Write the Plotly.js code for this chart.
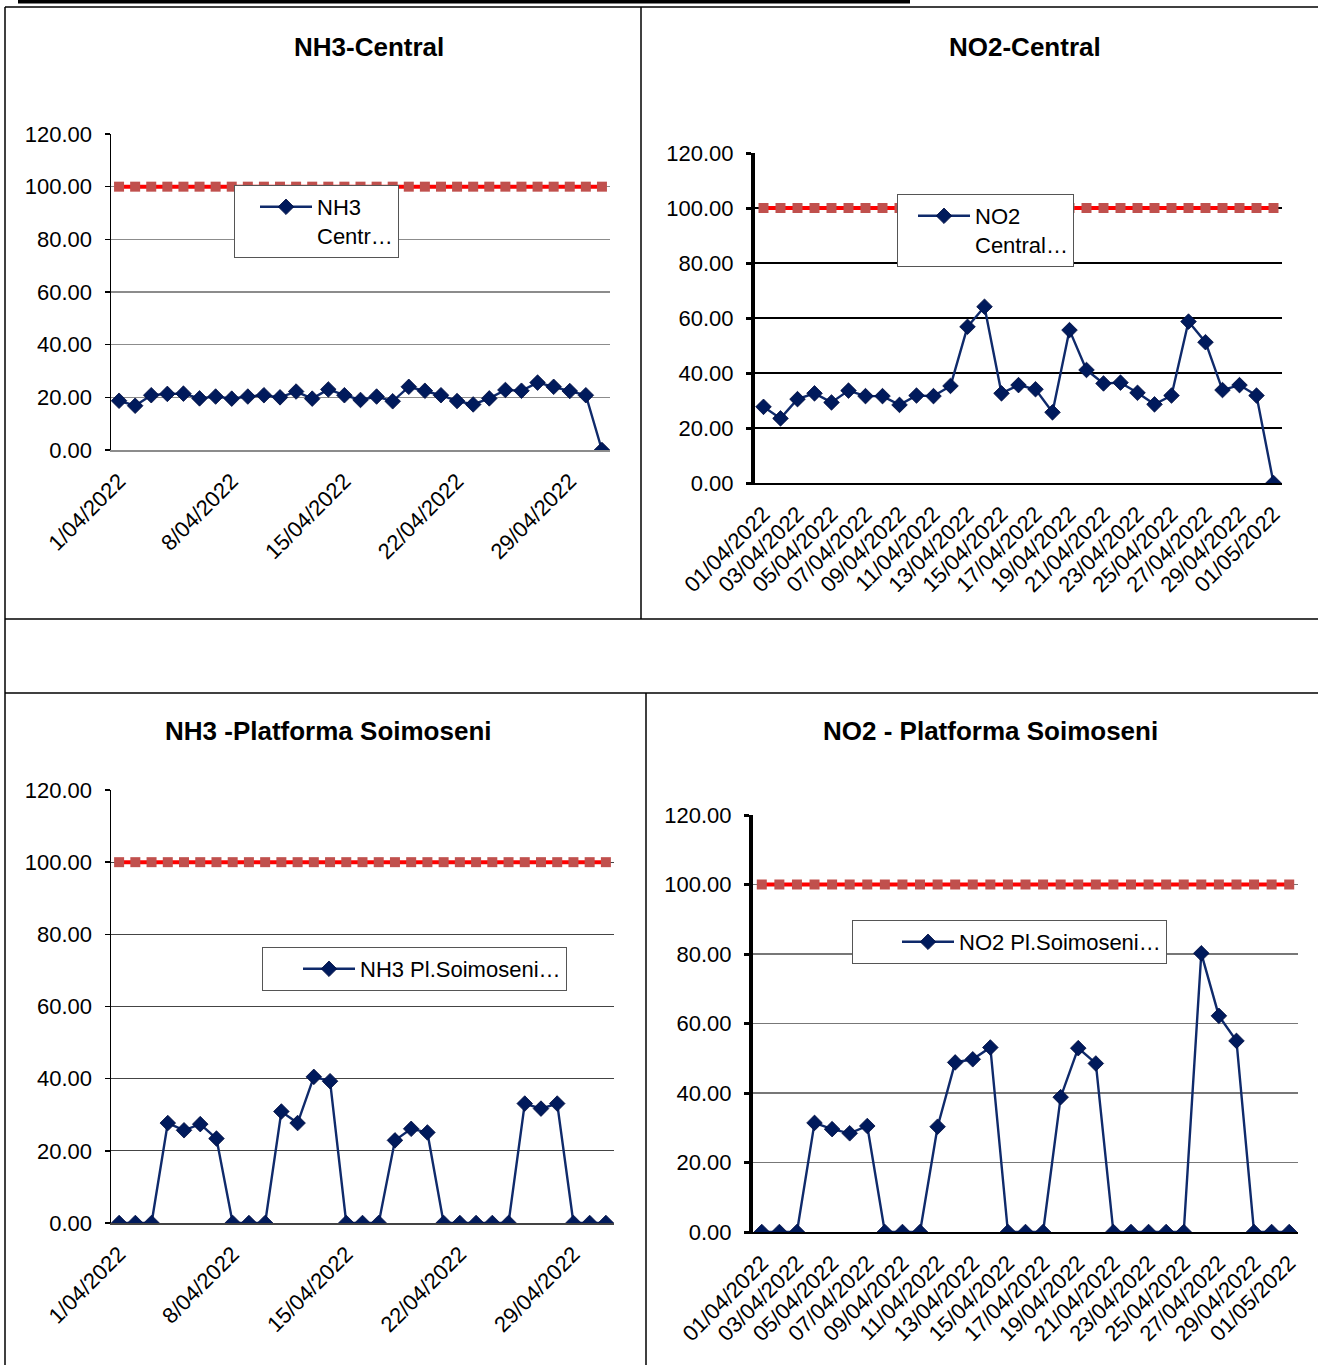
<!DOCTYPE html>
<html>
<head>
<meta charset="utf-8">
<script src="https://cdn.plot.ly/plotly-3.0.1.min.js"></script>
<style>
html,body{margin:0;padding:0;background:#fff;}
#chart{width:1318px;height:1365px;}
</style>
</head>
<body>
<div id="chart"></div>
<script>
// ---------- DATA ----------
const dates = ['2022-04-01','2022-04-02','2022-04-03','2022-04-04','2022-04-05','2022-04-06','2022-04-07','2022-04-08','2022-04-09','2022-04-10',
  '2022-04-11','2022-04-12','2022-04-13','2022-04-14','2022-04-15','2022-04-16','2022-04-17','2022-04-18','2022-04-19','2022-04-20',
  '2022-04-21','2022-04-22','2022-04-23','2022-04-24','2022-04-25','2022-04-26','2022-04-27','2022-04-28','2022-04-29','2022-04-30','2022-05-01'];

const nh3Central = [18.7,16.8,20.8,21.3,21.4,19.6,20.3,19.5,20.3,20.8,20.0,22.2,19.5,23.0,20.8,19.0,20.3,18.5,24.0,22.5,20.8,18.6,17.3,19.6,22.8,22.5,25.6,24.0,22.4,20.8,0];
const no2Central = [27.7,23.5,30.5,32.6,29.3,33.6,31.6,31.6,28.4,31.8,31.6,35.3,56.8,64.1,32.6,35.6,34.1,25.7,55.6,41.1,36.2,36.5,32.8,28.6,31.8,58.7,51.2,33.8,35.6,31.8,0];
const nh3Soimoseni = [0,0,0,27.7,25.7,27.4,23.4,0,0,0,30.9,27.7,40.5,39.3,0,0,0,22.9,26.1,25.1,0,0,0,0,0,33.1,31.7,33.1,0,0,0];
const no2Soimoseni = [0,0,0,31.4,29.6,28.4,30.5,0,0,0,30.3,48.8,49.7,53.1,0,0,0,38.8,52.9,48.5,0,0,0,0,0,80.2,62.2,55.0,0,0,0];
const limitValue = 100;

const weeklyTickDates = ['2022-04-01','2022-04-08','2022-04-15','2022-04-22','2022-04-29'];
const weeklyTickLabels = ['1/04/2022','8/04/2022','15/04/2022','22/04/2022','29/04/2022'];
const biDailyTickDates = ['2022-04-01','2022-04-03','2022-04-05','2022-04-07','2022-04-09','2022-04-11','2022-04-13','2022-04-15',
  '2022-04-17','2022-04-19','2022-04-21','2022-04-23','2022-04-25','2022-04-27','2022-04-29','2022-05-01'];
const biDailyTickLabels = ['01/04/2022','03/04/2022','05/04/2022','07/04/2022','09/04/2022','11/04/2022','13/04/2022','15/04/2022',
  '17/04/2022','19/04/2022','21/04/2022','23/04/2022','25/04/2022','27/04/2022','29/04/2022','01/05/2022'];
const yTicks = [0,20,40,60,80,100,120];

const titles = ['NH3-Central','NO2-Central','NH3 -Platforma Soimoseni','NO2 - Platforma Soimoseni'];
const seriesNames = ['NH3<br>Centr…','NO2<br>Central…','NH3 Pl.Soimoseni…','NO2 Pl.Soimoseni…'];

// ---------- LAYOUT HELPERS ----------
const W = 1318, H = 1365;
const px = v => v / W;
const py = v => 1 - v / H;
const FONT = 'Arial, "Liberation Sans", sans-serif';
const shiftHours = (d, h) => { const t = new Date(d + 'T00:00:00Z').getTime() + h*3600*1000; return new Date(t).toISOString().slice(0,19).replace('T',' '); };
const halfDayBefore = d => shiftHours(d, -12);
const xRange = [shiftHours(dates[0], -12), shiftHours(dates[dates.length-1], 12)];

const panels = [
  {x0:111, x1:610, y0:134, y1:450, vals:nh3Central, tv:weeklyTickDates, tt:weeklyTickLabels, grid:'#8c8c8c', yline:1.5, xline:'#8c8c8c', tickc:'#8c8c8c',
   title:[369,47], legend:[234,185], indent:20},
  {x0:755, x1:1282, y0:153, y1:483, vals:no2Central, tv:biDailyTickDates, tt:biDailyTickLabels, grid:'#000000', yline:4, xline:'#000000', tickc:'#8c8c8c',
   title:[1025,47], legend:[897,194], indent:15},
  {x0:111, x1:614, y0:790, y1:1223, vals:nh3Soimoseni, tv:weeklyTickDates, tt:weeklyTickLabels, grid:'#444444', yline:1.5, xline:'#444444', tickc:'#8c8c8c',
   title:[328,731], legend:[262,947], indent:35},
  {x0:753, x1:1298, y0:815, y1:1232, vals:no2Soimoseni, tv:biDailyTickDates, tt:biDailyTickLabels, grid:'#777777', yline:4, xline:'#000000', tickc:'#8c8c8c',
   title:[990,731], legend:[852,920], indent:44}
];

const traces = [];
const layout = {
  width: W, height: H,
  margin: {l:0, r:0, t:0, b:0},
  paper_bgcolor: '#ffffff', plot_bgcolor: 'rgba(0,0,0,0)',
  font: {family: FONT, size: 22, color: '#000'},
  showlegend: true,
  hovermode: false,
  annotations: [],
  shapes: []
};

panels.forEach((p, i) => {
  const n = i + 1;
  const xa = n === 1 ? 'x' : 'x' + n;
  const ya = n === 1 ? 'y' : 'y' + n;
  const xKey = n === 1 ? 'xaxis' : 'xaxis' + n;
  const yKey = n === 1 ? 'yaxis' : 'yaxis' + n;
  const legKey = n === 1 ? 'legend' : 'legend' + n;
  const tickAxisNum = n + 4;

  traces.push({
    x: dates, y: dates.map(() => limitValue), xaxis: xa, yaxis: ya,
    type: 'scatter', mode: 'lines+markers', showlegend: false,
    line: {color: '#ff0000', width: 4},
    marker: {symbol: 'square', size: 10, color: '#c0504d'}
  });
  traces.push({
    x: dates, y: p.vals, xaxis: xa, yaxis: ya, name: seriesNames[i], legend: legKey,
    type: 'scatter', mode: 'lines+markers',
    line: {color: '#0f2a6b', width: 2.4},
    marker: {symbol: 'diamond', size: 12, color: '#001a5c', line: {color: '#000d40', width: 0.8}}
  });

  layout[xKey] = {
    type: 'date', domain: [px(p.x0), px(p.x1)], anchor: ya, range: xRange,
    tickmode: 'array', tickvals: p.tv, ticktext: p.tt, tickangle: -45,
    ticks: 'outside', ticklen: 8, tickcolor: 'rgba(0,0,0,0)',
    tickfont: {family: FONT, size: 22, color: '#000'},
    showgrid: false, zeroline: false, showline: true, linecolor: p.xline, linewidth: 1.5,
    fixedrange: true
  };
  layout['xaxis' + tickAxisNum] = {
    type: 'date', overlaying: xa, anchor: ya, range: xRange,
    tickmode: 'array', tickvals: p.tv.map(halfDayBefore),
    ticks: 'outside', ticklen: 7, tickwidth: 1.5, tickcolor: p.tickc,
    showticklabels: false, showgrid: false, zeroline: false, showline: false, fixedrange: true
  };
  layout[yKey] = {
    domain: [py(p.y1), py(p.y0)], anchor: xa, range: [0, 120],
    tickmode: 'array', tickvals: yTicks, tickformat: '.2f',
    ticks: 'outside', ticklen: 5, tickwidth: p.yline > 2 ? 3 : 1.5, tickcolor: '#000',
    ticklabelstandoff: 8,
    tickfont: {family: FONT, size: 22, color: '#000'},
    showgrid: true, gridcolor: p.grid, gridwidth: 1.2,
    zeroline: false, showline: true, linecolor: '#000', linewidth: p.yline,
    fixedrange: true
  };
  layout[legKey] = {
    x: px(p.legend[0]), y: py(p.legend[1]), xanchor: 'left', yanchor: 'top',
    bgcolor: '#ffffff', bordercolor: '#555555', borderwidth: 1,
    font: {family: FONT, size: 22, color: '#000'},
    itemwidth: 52, indentation: p.indent, valign: 'top'
  };
  layout.annotations.push({
    xref: 'paper', yref: 'paper', x: px(p.title[0]), y: py(p.title[1]),
    xanchor: 'center', yanchor: 'middle', showarrow: false,
    text: '<b>' + titles[i] + '</b>',
    font: {family: FONT, size: 26, color: '#000'}
  });
});

// table borders
const hline = (x0, x1, y, w) => ({type:'line', xref:'paper', yref:'paper', x0:px(x0), x1:px(x1), y0:py(y), y1:py(y), line:{color:'#000', width:w}});
const vline = (x, y0, y1, w) => ({type:'line', xref:'paper', yref:'paper', x0:px(x), x1:px(x), y0:py(y0), y1:py(y1), line:{color:'#000', width:w}});
layout.shapes.push(
  {type:'rect', xref:'paper', yref:'paper', x0:px(18), x1:px(910), y0:py(3.5), y1:py(0), fillcolor:'#000', line:{width:0}},
  hline(5, 1318, 7, 1.5),
  hline(5, 1318, 619, 1.5),
  hline(5, 1318, 693, 1.5),
  vline(5, 7, 1365, 1.5),
  vline(641, 7, 619, 1.5),
  vline(646, 693, 1365, 1.5)
);

Plotly.newPlot('chart', traces, layout, {staticPlot: true, displayModeBar: false});
</script>
</body>
</html>
